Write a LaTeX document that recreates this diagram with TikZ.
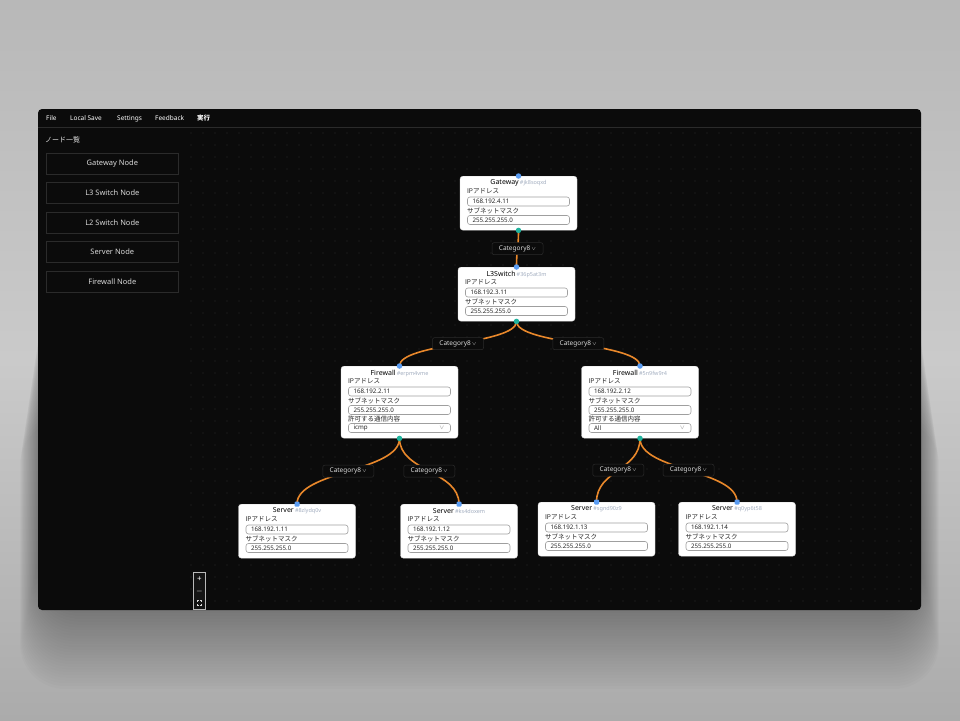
\documentclass[tikz,border=0pt]{standalone}
\usepackage{fontspec}
\setmainfont{Noto Sans}
\newfontfamily\jp{Noto Sans CJK JP}
\usepackage{tikz}
\usetikzlibrary{positioning,shapes}
\definecolor{edgeor}{HTML}{E9882B}
\definecolor{hblue}{HTML}{5A9CF2}
\definecolor{hteal}{HTML}{20B39D}
\definecolor{idgray}{HTML}{A3AEC0}
\definecolor{winbg}{HTML}{0B0B0B}
\definecolor{btnline}{HTML}{2B2B2B}
\definecolor{griddot}{HTML}{2C2C2C}
\definecolor{bgtop}{HTML}{B8B8B8}
\definecolor{bgmid}{HTML}{CACACA}
\definecolor{bgbot}{HTML}{ABABAB}
\definecolor{zbg}{HTML}{141414}
\pgfdeclarelayer{back}
\pgfdeclarelayer{wires}
\pgfsetlayers{back,wires,main}
\tikzstyle{card} = [rectangle, draw=gray!30, fill=white, rounded corners=3pt, minimum width=117pt, inner sep=0pt, anchor=north]
\tikzstyle{head} = [inner sep=0pt, text=black, font=\fontsize{7}{8}\selectfont]
\tikzstyle{flabel} = [anchor=west, inner sep=0pt, text=black!85, font=\jp\fontsize{6.5}{7}\selectfont]
\tikzstyle{fbox} = [rectangle, draw=gray!75, fill=white, rounded corners=2.5pt, line width=0.6pt, text width=92pt, minimum height=9pt, inner xsep=5pt, inner ysep=0pt, align=left, text=black!85, font=\fontsize{6.2}{7}\selectfont]
\tikzstyle{chev} = [inner sep=0pt, text=gray, font=\fontsize{6}{6}\selectfont]
\tikzstyle{hin} = [circle, fill=hblue, minimum size=5.5pt, inner sep=0pt]
\tikzstyle{hsq} = [rectangle, rounded corners=1pt, fill=hblue, minimum size=5pt, inner sep=0pt]
\tikzstyle{hout} = [circle, fill=hteal, minimum size=5.5pt, inner sep=0pt]
\tikzstyle{wire} = [draw=edgeor, line width=1.6pt]
\tikzstyle{elabel} = [rectangle, draw=btnline, fill=winbg, line width=0.5pt, rounded corners=2pt, minimum width=51pt, minimum height=12pt, inner sep=0pt, text=white!85!black, font=\fontsize{6.5}{7}\selectfont]
\tikzstyle{menu} = [anchor=west, inner sep=0pt, text=white, font=\bfseries\fontsize{6.5}{7}\selectfont]
\tikzstyle{btn} = [rectangle, draw=btnline, fill=winbg, line width=0.6pt, minimum width=132pt, minimum height=21pt, inner sep=0pt, text=white!85!black, font=\fontsize{7.5}{8}\selectfont]
\tikzstyle{zsym} = [inner sep=0pt, text=white, font=\fontsize{8}{8}\selectfont]
\newcommand{\catlabel}{Category8\,{\fontsize{5}{5}\selectfont$\vee$}}
\newcommand{\hostbody}[2]{%
	\node[flabel] (#1-ipl) at ([xshift=7pt,yshift=-15.5pt]#1.north west) {IPアドレス};
	\node[fbox] (#1-ip) at ([yshift=-25.5pt]#1.north) {#2};
	\node[flabel] (#1-sml) at ([xshift=7pt,yshift=-34.5pt]#1.north west) {サブネットマスク};
	\node[fbox] (#1-sm) at ([yshift=-44pt]#1.north) {255.255.255.0};
}
\newcommand{\fwbody}[2]{%
	\node[flabel] (#1-pl) at ([xshift=7pt,yshift=-53pt]#1.north west) {許可する通信内容};
	\node[fbox] (#1-sel) at ([yshift=-62pt]#1.north) {#2};
	\node[chev] (#1-selv) at ([xshift=-9pt]#1-sel.east) {$\vee$};
}
\begin{document}
\begin{tikzpicture}[x=1pt, y=-1pt]
	\useasboundingbox (0,0) rectangle (960,720);
	\begin{pgfonlayer}{back}
		\shade[top color=bgtop, bottom color=bgbot, middle color=bgmid] (0,0) rectangle (960,720);
		\foreach \s in {2,4,...,60}
			\fill[black, opacity=0.013, rounded corners=45pt] (38-0.3*\s,300+2*\s) rectangle (921+0.3*\s,605+1.4*\s);
		\fill[winbg, rounded corners=4pt] (38,109) rectangle (921,610);
		\draw[btnline, line width=0.6pt] (38,127.5) -- (921,127.5);
		\foreach \gx in {191,203,...,919}
			\foreach \gy in {133,145,...,607}
				\fill[griddot] (\gx,\gy) circle (0.6pt);
		\node[menu] (m-file) at (46,118.5) {File};
		\node[menu] (m-save) at (70,118.5) {Local Save};
		\node[menu] (m-set) at (117,118.5) {Settings};
		\node[menu] (m-fb) at (155,118.5) {Feedback};
		\node[menu] (m-run) at (197,118.5) {\jp 実行};
		\node[anchor=west, inner sep=0pt, text=white!90!black, font=\jp\fontsize{7}{8}\selectfont] (sb-title) at (45,140) {ノード一覧};
		\node[btn, anchor=north west] (b-gw) at (46,152.5) {Gateway Node};
		\node[btn, below=8pt of b-gw] (b-l3) {L3 Switch Node};
		\node[btn, below=8pt of b-l3] (b-l2) {L2 Switch Node};
		\node[btn, below=8pt of b-l2] (b-srv) {Server Node};
		\node[btn, below=8pt of b-srv] (b-fw) {Firewall Node};
		\draw[fill=zbg, draw=gray!55, line width=0.8pt] (193.5,572.5) rectangle (205.5,609.5);
		\node[zsym] (z-in) at (199.5,579) {+};
		\node[zsym] (z-out) at (199.5,591) {$-$};
		\draw[white!85!black, line width=0.5pt] (197.5,602) -- (197.5,600.5) -- (199,600.5) (200,600.5) -- (201.5,600.5) -- (201.5,602) (201.5,603.5) -- (201.5,605) -- (200,605) (199,605) -- (197.5,605) -- (197.5,603.5);
	\end{pgfonlayer}
	\node[card, minimum height=54pt] (gw) at (518.5,176) {};
	\node[head] (gw-h) at ([yshift=-7pt]gw.north) {\textbf{Gateway}\,{\color{idgray}\fontsize{5.5}{6}\selectfont\#jk8soqxd}};
	\hostbody{gw}{168.192.4.11}
	\node[card, minimum height=54pt] (l3) at (516.5,267) {};
	\node[head] (l3-h) at ([yshift=-7pt]l3.north) {\textbf{L3Switch}\,{\color{idgray}\fontsize{5.5}{6}\selectfont\#36p5at3m}};
	\hostbody{l3}{168.192.3.11}
	\node[card, minimum height=72pt] (fw1) at (399.5,366) {};
	\node[head] (fw1-h) at ([yshift=-7pt]fw1.north) {\textbf{Firewall}\,{\color{idgray}\fontsize{5.5}{6}\selectfont\#erpm4vme}};
	\hostbody{fw1}{168.192.2.11}
	\fwbody{fw1}{icmp}
	\node[card, minimum height=72pt] (fw2) at (640,366) {};
	\node[head] (fw2-h) at ([yshift=-7pt]fw2.north) {\textbf{Firewall}\,{\color{idgray}\fontsize{5.5}{6}\selectfont\#5n9fw9r4}};
	\hostbody{fw2}{168.192.2.12}
	\fwbody{fw2}{All}
	\node[card, minimum height=54pt] (srv1) at (297,504) {};
	\node[head] (srv1-h) at ([yshift=-7pt]srv1.north) {\textbf{Server}\,{\color{idgray}\fontsize{5.5}{6}\selectfont\#8zlydq0v}};
	\hostbody{srv1}{168.192.1.11}
	\node[card, minimum height=54pt] (srv2) at (459,504) {};
	\node[head] (srv2-h) at ([yshift=-7pt]srv2.north) {\textbf{Server}\,{\color{idgray}\fontsize{5.5}{6}\selectfont\#ks4doxem}};
	\hostbody{srv2}{168.192.1.12}
	\node[card, minimum height=54pt] (srv3) at (596.5,502) {};
	\node[head] (srv3-h) at ([yshift=-7pt]srv3.north) {\textbf{Server}\,{\color{idgray}\fontsize{5.5}{6}\selectfont\#sgnd90z9}};
	\hostbody{srv3}{168.192.1.13}
	\node[card, minimum height=54pt] (srv4) at (737,502) {};
	\node[head] (srv4-h) at ([yshift=-7pt]srv4.north) {\textbf{Server}\,{\color{idgray}\fontsize{5.5}{6}\selectfont\#q0yp6t58}};
	\hostbody{srv4}{168.192.1.14}
	\node[hin] (gw-in) at (gw.north) {};
	\node[hout] (gw-out) at (gw.south) {};
	\node[hin] (l3-in) at (l3.north) {};
	\node[hout] (l3-out) at (l3.south) {};
	\node[hin] (fw1-in) at (fw1.north) {};
	\node[hout] (fw1-out) at (fw1.south) {};
	\node[hin] (fw2-in) at (fw2.north) {};
	\node[hout] (fw2-out) at (fw2.south) {};
	\node[hsq] (srv1-in) at (srv1.north) {};
	\node[hsq] (srv2-in) at (srv2.north) {};
	\node[hsq] (srv3-in) at (srv3.north) {};
	\node[hsq] (srv4-in) at (srv4.north) {};
	\begin{pgfonlayer}{wires}
		\draw[wire] (gw-out.center) .. controls +(0,18.5) and +(0,-18.5) .. (l3-in.center) node[elabel, pos=0.5] (c1) {\catlabel};
		\draw[wire] (l3-out.center) .. controls +(0,23) and +(0,-23) .. (fw1-in.center) node[elabel, pos=0.5] (c2) {\catlabel};
		\draw[wire] (l3-out.center) .. controls +(0,23) and +(0,-23) .. (fw2-in.center) node[elabel, pos=0.5] (c3) {\catlabel};
		\draw[wire] (fw1-out.center) .. controls +(0,33) and +(0,-33) .. (srv1-in.center) node[elabel, pos=0.5] (c4) {\catlabel};
		\draw[wire] (fw1-out.center) .. controls +(0,33) and +(0,-33) .. (srv2-in.center) node[elabel, pos=0.5] (c5) {\catlabel};
		\draw[wire] (fw2-out.center) .. controls +(0,32) and +(0,-32) .. (srv3-in.center) node[elabel, pos=0.5] (c6) {\catlabel};
		\draw[wire] (fw2-out.center) .. controls +(0,32) and +(0,-32) .. (srv4-in.center) node[elabel, pos=0.5] (c7) {\catlabel};
	\end{pgfonlayer}
\end{tikzpicture}
\end{document}
